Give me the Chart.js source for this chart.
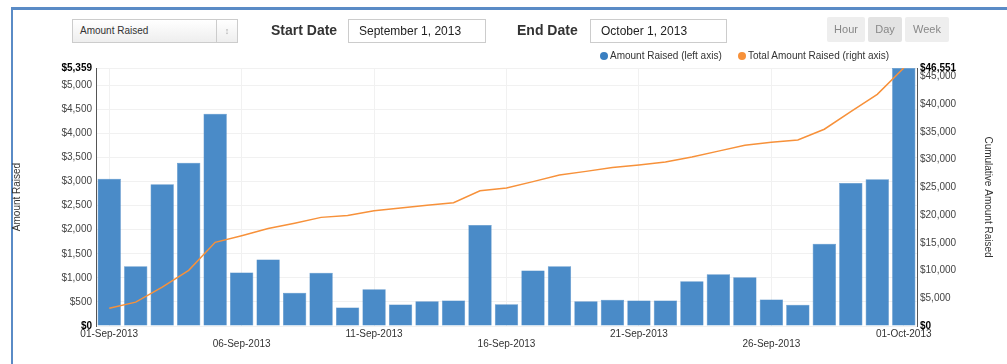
<!DOCTYPE html>
<html>
<head>
<meta charset="utf-8">
<script src="https://cdn.jsdelivr.net/npm/chart.js@4"></script>
<style>
  body { margin: 0; width: 1007px; height: 364px; overflow: hidden; background: #fff;
         font-family: "Liberation Sans", Arial, sans-serif; color: #333; }
  #frame { position: absolute; left: 11px; top: 7px; right: 0; bottom: 0;
           border-top: 3px solid #5a8bc6; border-left: 2px solid #5a8bc6; }
  #wrap { position: absolute; left: 0; top: 0; width: 1007px; height: 364px; }
  .ctl { position: absolute; box-sizing: border-box; }
  .select { left: 72px; top: 19px; width: 166px; height: 24px; border: 1px solid #ccc;
            background: linear-gradient(#fff, #eee); font-size: 10px; line-height: 22px;
            padding-left: 7px; color: #333; }
  .select .arrow { position: absolute; right: 0; top: 0; width: 20px; height: 22px;
                   border-left: 1px solid #ccc; text-align: center; color: #aaa; font-size: 9px; }
  .lbl { font-size: 14px; font-weight: bold; top: 22px; color: #333; }
  .input { top: 19px; height: 24px; border: 1px solid #ccc; font-size: 12px;
           line-height: 22px; padding-left: 10px; color: #222; background: #fff; }
  .btn { top: 17px; height: 25px; background: #eee; border-radius: 2px; color: #888;
         font-size: 11px; line-height: 25px; text-align: center; }
  .legend { top: 50px; font-size: 10px; color: #333; white-space: nowrap; }
  .legend i { display: inline-block; width: 8px; height: 8px; border-radius: 50%;
              margin-right: 2px; vertical-align: -1px; }
</style>
</head>
<body>
<div id="frame"></div>
<div id="wrap"><canvas id="raised" width="1007" height="364"></canvas></div>

<div class="ctl select">Amount Raised<span class="arrow">&#8597;</span></div>
<div class="ctl lbl" style="left:271px">Start Date</div>
<div class="ctl input" style="left:348px;width:138px">September 1, 2013</div>
<div class="ctl lbl" style="left:517px">End Date</div>
<div class="ctl input" style="left:590px;width:137px">October 1, 2013</div>
<div class="ctl btn" style="left:827px;width:38px">Hour</div>
<div class="ctl btn" style="left:868px;width:34px;background:#e3e3e3">Day</div>
<div class="ctl btn" style="left:905px;width:44px">Week</div>
<div class="ctl legend" style="left:600px"><i style="background:#3a7fc1"></i>Amount Raised (left axis)</div>
<div class="ctl legend" style="left:738px"><i style="background:#f7913a"></i>Total Amount Raised (right axis)</div>

<script>
// daily donations, 01-Sep-2013 .. 01-Oct-2013
const days = [
  '01-Sep-2013', '02-Sep-2013', '03-Sep-2013', '04-Sep-2013', '05-Sep-2013',
  '06-Sep-2013', '07-Sep-2013', '08-Sep-2013', '09-Sep-2013', '10-Sep-2013',
  '11-Sep-2013', '12-Sep-2013', '13-Sep-2013', '14-Sep-2013', '15-Sep-2013',
  '16-Sep-2013', '17-Sep-2013', '18-Sep-2013', '19-Sep-2013', '20-Sep-2013',
  '21-Sep-2013', '22-Sep-2013', '23-Sep-2013', '24-Sep-2013', '25-Sep-2013',
  '26-Sep-2013', '27-Sep-2013', '28-Sep-2013', '29-Sep-2013', '30-Sep-2013',
  '01-Oct-2013'
];
const amountRaised = [
  3060, 1243, 2942, 3393, 4411, 1112, 1382, 690, 1106, 385,
  765, 447, 516, 530, 2096, 453, 1154, 1243, 516, 545,
  530, 530, 932, 1077, 1015, 551, 441, 1709, 2969, 3046,
  5359
];
const totalRaised = [
  3210, 4300, 7000, 10050, 15100, 16300, 17600, 18550, 19600, 19950,
  20800, 21300, 21800, 22250, 24400, 24900, 26050, 27250, 27900, 28600,
  29050, 29600, 30500, 31550, 32600, 33150, 33550, 35500, 38700, 41800,
  46551
];
const leftTicks = [0, 500, 1000, 1500, 2000, 2500, 3000, 3500, 4000, 4500, 5000, 5359];
const rightTicks = [0, 5000, 10000, 15000, 20000, 25000, 30000, 35000, 40000, 45000, 46551];

const leftMax = leftTicks[leftTicks.length - 1];
const rightMax = rightTicks[rightTicks.length - 1];

function money(v) {
  return '$' + Number(v).toLocaleString('en-US');
}

function tickFont(max) {
  return function (ctx) {
    const v = ctx.tick ? ctx.tick.value : null;
    const strong = v === 0 || v === max;
    return { family: '"Liberation Sans", Arial, sans-serif', size: 10, weight: strong ? 'bold' : 'normal' };
  };
}

function tickColor(max) {
  return function (ctx) {
    const v = ctx.tick ? ctx.tick.value : null;
    return (v === 0 || v === max) ? '#000' : '#444';
  };
}

new Chart(document.getElementById('raised'), {
  data: {
    labels: days,
    datasets: [
      {
        type: 'line',
        label: 'Total Amount Raised (right axis)',
        data: totalRaised,
        yAxisID: 'yRight',
        borderColor: '#f7913a',
        borderWidth: 1.5,
        pointRadius: 0,
        tension: 0,
        order: 0
      },
      {
        type: 'bar',
        label: 'Amount Raised (left axis)',
        data: amountRaised,
        yAxisID: 'yLeft',
        backgroundColor: '#4a8bc8',
        borderColor: '#3f80bf',
        borderWidth: 0.5,
        barPercentage: 0.88,
        categoryPercentage: 1,
        order: 1
      }
    ]
  },
  options: {
    responsive: false,
    animation: false,
    layout: { padding: { top: 68, left: 0, right: 0, bottom: 0 } },
    plugins: {
      legend: { display: false },
      tooltip: { enabled: false }
    },
    scales: {
      x: {
        grid: {
          offset: false,
          drawTicks: false,
          color: (ctx) => (ctx.index % 5 === 0 ? '#f1f1f1' : 'rgba(0,0,0,0)')
        },
        border: { display: false },
        ticks: {
          autoSkip: false,
          maxRotation: 0,
          minRotation: 0,
          padding: 3,
          color: '#333',
          font: { family: '"Liberation Sans", Arial, sans-serif', size: 10, lineHeight: 1 },
          callback: function (value, index) {
            if (index % 10 === 0) return days[index];
            if (index % 10 === 5) return ['', days[index]];
            return '';
          }
        },
        afterFit: (scale) => { scale.height = 38; }
      },
      yLeft: {
        position: 'left',
        min: 0,
        max: leftMax,
        afterBuildTicks: (scale) => { scale.ticks = leftTicks.map(v => ({ value: v })); },
        grid: { color: '#f1f1f1', drawTicks: false },
        border: { display: true, color: '#555', width: 1 },
        ticks: {
          padding: 4,
          color: tickColor(leftMax),
          font: tickFont(leftMax),
          callback: money
        },
        title: {
          display: true,
          text: 'Amount Raised',
          color: '#333',
          font: { family: '"Liberation Sans", Arial, sans-serif', size: 10 },
          padding: { top: 11, bottom: 0 }
        },
        afterFit: (scale) => { scale.width = 96; }
      },
      yRight: {
        position: 'right',
        min: 0,
        max: rightMax,
        afterBuildTicks: (scale) => { scale.ticks = rightTicks.map(v => ({ value: v })); },
        grid: { drawOnChartArea: false, drawTicks: false },
        border: { display: true, color: '#555', width: 1 },
        ticks: {
          padding: 3,
          color: tickColor(rightMax),
          font: tickFont(rightMax),
          callback: money
        },
        title: {
          display: true,
          text: 'Cumulative Amount Raised',
          color: '#333',
          font: { family: '"Liberation Sans", Arial, sans-serif', size: 10 },
          padding: { top: 13, bottom: 0 }
        },
        afterFit: (scale) => { scale.width = 90; }
      }
    }
  }
});
</script>
</body>
</html>
